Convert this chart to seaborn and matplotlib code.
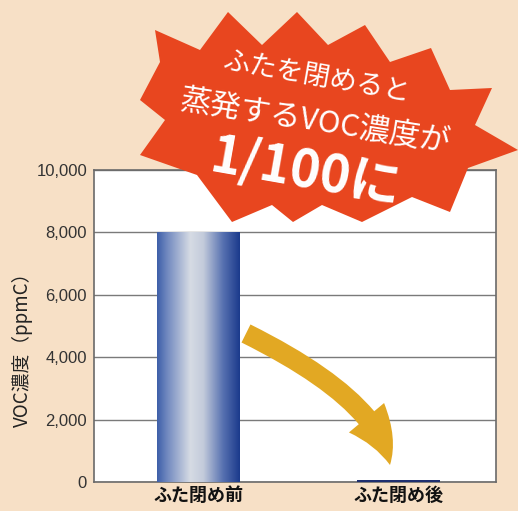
import numpy as np
import pandas as pd
import matplotlib
matplotlib.use("Agg")
import matplotlib.pyplot as plt
import seaborn as sns
from matplotlib.patches import Polygon, FancyArrowPatch
from matplotlib.path import Path
from matplotlib.colors import LinearSegmentedColormap

categories = ["ふた閉め前", "ふた閉め後"]
values = [8000, 80]
y_ticks = [0, 2000, 4000, 6000, 8000, 10000]
y_tick_labels = ["0", "2,000", "4,000", "6,000", "8,000", "10,000"]
y_label = "VOC濃度（ppmC）"
burst_lines = ["ふたを閉めると", "蒸発するVOC濃度が", "1/100に"]

sns.set_theme(style="white")
plt.rcParams["font.family"] = ["Noto Sans CJK JP", "DejaVu Sans"]

W, H = 518, 511
BG = "#F7E0C6"
fig = plt.figure(figsize=(W/100, H/100), dpi=100, facecolor=BG)
ax = fig.add_axes([94/W, 29/H, 402/W, 312/H])
ax.set_facecolor("white")

df = pd.DataFrame({"cat": categories, "val": values})
sns.barplot(data=df, x="cat", y="val", ax=ax, width=0.415,
            palette=["#2A4A95", "#1E2F70"], hue="cat", legend=False,
            saturation=1, edgecolor="none", zorder=3)

ax.set_ylim(0, 10000)
ax.set_xlim(-0.52, 1.49)
ax.set_yticks(y_ticks)
ax.set_yticklabels(y_tick_labels, fontsize=12, color="#333333",
                   family=["Liberation Sans", "DejaVu Sans"])
ax.set_xticks(range(len(categories)))
ax.set_xticklabels(categories, fontsize=13, fontweight="bold", color="#111111")
ax.tick_params(axis="y", length=0, pad=5)
ax.tick_params(axis="x", length=0, pad=3)
ax.set_xlabel("")
ax.set_ylabel(y_label, fontsize=13.5, color="#222222")
ax.yaxis.set_label_coords(-0.152, 0.44)
ax.yaxis.grid(True, color="#7a7a7a", linewidth=1.0, zorder=1)
ax.set_axisbelow(True)
for s in ax.spines.values():
    s.set_visible(True)
    s.set_color("#6a6a6a")
    s.set_linewidth(1.2)

# gradient fill on main bar
cmap = LinearSegmentedColormap.from_list(
    "barg", [(0.0, "#3E5FA9"), (0.12, "#7088BF"), (0.4, "#D6DBE4"),
             (0.56, "#C3CBDB"), (0.8, "#5670B0"), (1.0, "#1B3A8C")])
grad = np.linspace(0, 1, 256).reshape(1, -1)
p = ax.patches[0]
bb = p.get_bbox()
im = ax.imshow(grad, cmap=cmap, aspect="auto",
               extent=[bb.x0, bb.x1, bb.y0, bb.y1], zorder=4)
im.set_clip_path(p)
ax.set_xlim(-0.52, 1.49)
ax.set_ylim(0, 10000)

# yellow curved arrow (quadratic path in data coords)
arrow_path = Path([(0.24, 4760), (0.91, 2628), (0.96, 545)],
                  [Path.MOVETO, Path.CURVE3, Path.CURVE3])
arr = FancyArrowPatch(path=arrow_path,
                      arrowstyle="simple,head_length=3.8,head_width=3.3,tail_width=1.45",
                      mutation_scale=10, color="#E2A823", zorder=5, lw=0)
ax.add_patch(arr)

# starburst (decorative outline, pixel coordinates)
burst_px = [(155, 30), (200, 50), (228, 12), (262, 45), (297, 12), (328, 45),
            (365, 25), (390, 62), (431, 48), (450, 90), (492, 88), (475, 125),
            (518, 150), (468, 168), (450, 212), (412, 197), (362, 222),
            (322, 205), (293, 222), (272, 205), (232, 222), (197, 175),
            (140, 155), (165, 120), (140, 100), (160, 62)]
burst = Polygon([(x/W, 1 - y/H) for x, y in burst_px], closed=True,
                transform=fig.transFigure, facecolor="#E8461F",
                edgecolor="none", zorder=10)
fig.patches.append(burst)

fig.text(317/W, 1 - 77/H, burst_lines[0], color="white", fontsize=19.5,
         rotation=-10, ha="center", va="center", zorder=11)
fig.text(315/W, 1 - 121/H, burst_lines[1], color="white", fontsize=22,
         rotation=-9, ha="center", va="center", zorder=11)
fig.text(306/W, 1 - 172/H, burst_lines[2], color="white", fontsize=37,
         fontweight="bold", rotation=-10, ha="center", va="center", zorder=11)

fig.savefig("out.png", dpi=100, facecolor=BG)
